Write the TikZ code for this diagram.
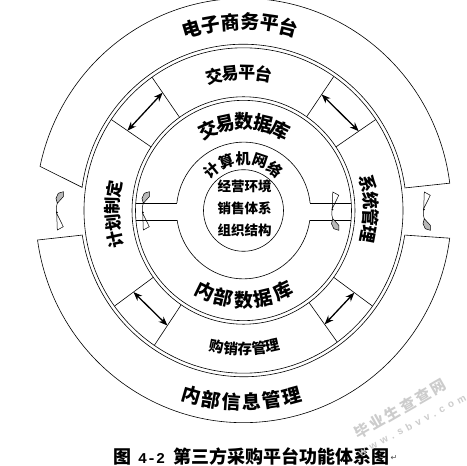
\documentclass[tikz,border=0pt]{standalone}
\usepackage{fontspec}
\usetikzlibrary{arrows.meta}
\newfontfamily\cjk{Noto Sans CJK SC}
\newfontfamily\monofnt{Liberation Mono}
\newfontfamily\symfnt{DejaVu Sans}
\newfontfamily\wmlat{Liberation Sans}[LetterSpace=45]
\newfontfamily\wmcjk{Noto Sans CJK SC}[LetterSpace=18]
\newcommand{\arctext}[8]{%
  \foreach \tchar [count=\tidx from 0] in {#8}{%
    \pgfmathsetmacro{\tang}{#3+((#2-1)/2-\tidx)*#5}%
    \pgfmathsetmacro{\trot}{\tang+#6}%
    \node[inner sep=0pt, font=#7, rotate=\trot] (#1\tidx) at (\tang:#4) {\tchar};
  }%
}
\tikzset{
  twist/.pic={
    \filldraw[fill=gray!55, line width=0.5pt] (0,-6.3) -- (2.3,-1.3) -- (7.3,0.3) -- (7.3,-4.7) -- (1.3,-11.3) -- cycle;
    \draw[line width=0.5pt] (1.3,-11.3) .. controls (0,-15) .. (0.7,-21.3);
    \draw[line width=0.5pt] (0.7,-21.3) -- (7.3,-34.7) -- (1.3,-38) -- cycle;
    \fill (0.9,-20.5) circle[radius=0.9];
  },
  dblarrow/.style={{Stealth[length=9pt,width=7pt]}-{Stealth[length=9pt,width=7pt]}, line width=1.3pt},
  thin line/.style={line width=0.6pt}
}
\begin{document}
\begin{tikzpicture}[x=1pt,y=1pt]
\useasboundingbox (0,0) rectangle (467,466);
\fill[white] (0,0) rectangle (467,466);
\begin{scope}[shift={(243.5,255.5)}, yscale=1.02, thin line]
  % outer ring halves
  \draw (7.4:208) arc[start angle=7.4, end angle=168, radius=208] -- (172:163)
        arc[start angle=172, end angle=7.8, radius=163] -- cycle;
  \draw (188:208) arc[start angle=188, end angle=352.5, radius=208] -- (351.5:163)
        arc[start angle=351.5, end angle=188.5, radius=163] -- cycle;
  % circles
  \draw (0,0) circle[radius=159.5];
  \draw (0,0) circle[radius=111.5];
  \draw (0,0) circle[radius=108];
  \draw (0,0) circle[radius=40];
  % network ring (broken by channels)
  \draw (6.43:67) arc[start angle=6.43, end angle=173.57, radius=67];
  \draw (188.15:67) arc[start angle=188.15, end angle=351.85, radius=67];
  \draw (-66.58,7.5) -- (-107.74,7.5);
  \draw (-66.32,-9.5) -- (-107.58,-9.5);
  \draw (66.58,7.5) -- (107.74,7.5);
  \draw (66.32,-9.5) -- (107.58,-9.5);
  % sector separators
  \foreach \a in {34,55.5,125,146,216,236,306,324}
    \draw (\a:111.5) -- (\a:159.5);
  % arrows
  \coordinate (ul1) at (146:140); \coordinate (ul2) at (125:141);
  \coordinate (ur1) at (55.5:138); \coordinate (ur2) at (34:139);
  \coordinate (ll1) at (216:136); \coordinate (ll2) at (236:136);
  \coordinate (lr1) at (324:137); \coordinate (lr2) at (306:138);
  \draw[dblarrow] (ul1) -- (ul2);
  \draw[dblarrow] (ur1) -- (ur2);
  \draw[dblarrow] (ll1) -- (ll2);
  \draw[dblarrow] (lr1) -- (lr2);
  % curved texts
  \arctext{ec}{6}{91}{185}{6.1}{-90}{\cjk\bfseries\fontsize{19}{19}\selectfont}{电,子,商,务,平,台}
  \arctext{im}{6}{269.5}{188}{-6.2}{90}{\cjk\bfseries\fontsize{19}{19}\selectfont}{内,部,信,息,管,理}
  \arctext{jp}{4}{92}{135}{7}{-90}{\cjk\bfseries\fontsize{17}{17}\selectfont}{交,易,平,台}
  \arctext{gx}{5}{270.6}{136}{-5.9}{90}{\cjk\bfseries\fontsize{14.5}{14.5}\selectfont}{购,销,存,管,理}
  \arctext{jh}{4}{181.7}{131}{7.2}{-90}{\cjk\bfseries\fontsize{17}{17}\selectfont}{计,划,制,定}
  \arctext{xt}{4}{0.7}{127.5}{7.6}{-90}{\cjk\bfseries\fontsize{17.5}{17.5}\selectfont}{系,统,管,理}
  \arctext{jd}{5}{89.5}{87}{12.4}{-90}{\cjk\bfseries\fontsize{19}{19}\selectfont}{交,易,数,据,库}
  \arctext{nd}{5}{270.1}{88}{-13.1}{90}{\cjk\bfseries\fontsize{19}{19}\selectfont}{内,部,数,据,库}
  \arctext{jw}{5}{90.6}{51}{19.3}{-90}{\cjk\bfseries\fontsize{15}{15}\selectfont}{计,算,机,网,络}
\end{scope}
% twisted markers in the gaps
\pic at (56,274) {twist};
\pic at (142,274) {twist};
\pic[yscale=-1] at (423,236) {twist};
\pic[yscale=-1] at (331.5,236) {twist};
% centre texts
\node[font=\cjk\bfseries\fontsize{13.5}{13.5}\selectfont, inner sep=0pt] (c1) at (244.5,279.5) {经营环境};
\node[font=\cjk\bfseries\fontsize{13.5}{13.5}\selectfont, inner sep=0pt] (c2) at (244.5,257.7) {销售体系};
\node[font=\cjk\bfseries\fontsize{13.5}{13.5}\selectfont, inner sep=0pt] (c3) at (244.5,236) {组织结构};
% caption
\node[anchor=west, inner sep=0pt, font=\cjk\bfseries\fontsize{18}{18}\selectfont] (cap) at (113,9.8)
  {图\hspace{7pt}{\monofnt\bfseries\fontsize{15}{15}\selectfont 4-2}\hspace{8pt}第三方采购平台功能体系图};
\node[anchor=west, inner sep=0pt, font=\symfnt\fontsize{8}{8}\selectfont, text=black!70] (ret) at ([xshift=1pt,yshift=-2pt]cap.east) {↵};
% watermark
\node[rotate=30, inner sep=0pt, text=black!20, font=\wmcjk\bfseries\fontsize{15}{15}\selectfont] (wm1) at (400,57) {毕业生查查网};
\node[rotate=28, inner sep=0pt, text=black!20, font=\wmlat\bfseries\fontsize{10}{10}\selectfont] (wm2) at (412,41) {www.sbvv.com};
\end{tikzpicture}
\end{document}
